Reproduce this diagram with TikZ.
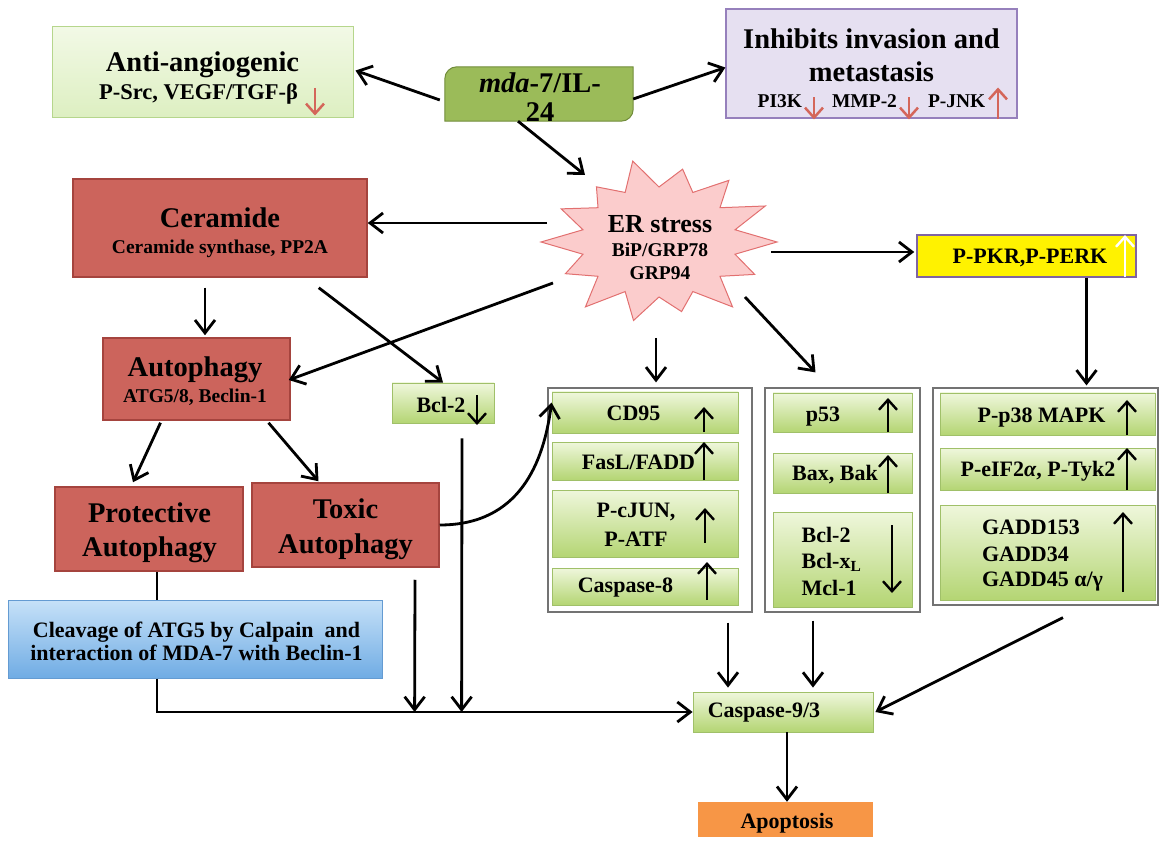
\documentclass[tikz,border=0pt]{standalone}
\usepackage{fontspec}
\setmainfont{Liberation Serif}
\usetikzlibrary{arrows.meta,calc}

\definecolor{leafTop}{RGB}{239,247,220}
\definecolor{leafBot}{RGB}{180,213,115}
\definecolor{leafEdge}{RGB}{160,192,105}
\definecolor{paleTop}{RGB}{242,249,230}
\definecolor{paleBot}{RGB}{221,239,193}
\definecolor{paleEdge}{RGB}{182,214,140}
\definecolor{olive}{RGB}{155,187,89}
\definecolor{oliveEdge}{RGB}{113,140,58}
\definecolor{lilac}{RGB}{230,224,241}
\definecolor{lilacEdge}{RGB}{150,128,188}
\definecolor{brick}{RGB}{204,100,92}
\definecolor{brickEdge}{RGB}{165,68,62}
\definecolor{blush}{RGB}{251,204,204}
\definecolor{blushEdge}{RGB}{226,112,112}
\definecolor{skyTop}{RGB}{198,225,248}
\definecolor{skyBot}{RGB}{112,172,228}
\definecolor{skyEdge}{RGB}{100,155,210}
\definecolor{tangerine}{RGB}{247,150,70}
\definecolor{pkrEdge}{RGB}{128,100,162}
\definecolor{rust}{RGB}{212,102,90}

\newcommand{\hdfont}{\fontsize{28.5}{33}\selectfont}
\newcommand{\subfont}{\fontsize{19.5}{24}\selectfont}
\newcommand{\boxfont}{\fontsize{22}{27}\selectfont}

\begin{document}
\begin{tikzpicture}[x=1pt, y=-1pt,
  every node/.style={inner sep=0pt},
  arr/.style={line width=2.8pt, -{Straight Barb[length=13pt,width=20pt]}},
  link/.style={line width=2.8pt},
  updn/.style={line width=2.4pt, -{Straight Barb[length=10pt,width=18pt]}},
  redarr/.style={draw=rust, line width=2.5pt, -{Straight Barb[length=10pt,width=18pt]}},
  leafbox/.style={draw=leafEdge, line width=0.8pt, top color=leafTop, bottom color=leafBot},
  palebox/.style={draw=paleEdge, line width=1pt, top color=paleTop, bottom color=paleBot},
  brickbox/.style={draw=brickEdge, line width=1.5pt, fill=brick},
  grpbox/.style={draw=black!55, line width=1.2pt, fill=white},
  headtext/.style={font=\hdfont\bfseries, align=center},
  boxtext/.style={font=\boxfont\bfseries, align=#1},
  boxtext/.default=center]
  \useasboundingbox (0,0) rectangle (1160,842);

  % top row
  \node[palebox, minimum width=301pt, minimum height=91pt] (anti) at (202.5,72.5) {};
  \node[headtext] (antiT) at ($(anti)+(0,6)$) {Anti-angiogenic\\[-5pt]{\fontsize{22.5}{24}\selectfont P-Src, VEGF/TGF-β\hspace*{8pt}}};
  \draw[redarr] ($(anti)+(112.5,15.5)$) -- ($(anti)+(112.5,43)$);

  \node[minimum width=188pt, minimum height=54pt] (mda) at (539,94) {};
  \filldraw[fill=olive, draw=oliveEdge, line width=1pt] (mda.south west)
    -- ($(mda.north west)+(0,12)$) arc[start angle=180, end angle=270, radius=12]
    -- (mda.north east) -- ($(mda.south east)+(0,-12)$) arc[start angle=0, end angle=90, radius=12]
    -- cycle;
  \node[headtext] (mdaT) at ($(mda)+(1,3.5)$) {\textit{mda}-7/IL-\\[-4pt]24};

  \node[draw=lilacEdge, line width=1.2pt, fill=lilac, minimum width=291pt, minimum height=109pt] (inhib) at (871.5,63.5) {};
  \node[headtext] (inhibT) at ($(inhib)+(0,5)$) {Inhibits invasion and\\metastasis\\[-7pt]{\subfont PI3K\hspace*{30pt}MMP-2\hspace*{31pt}P-JNK}};
  \draw[redarr] ($(inhib)+(-57.5,34)$) -- ($(inhib)+(-57.5,56)$);
  \draw[redarr] ($(inhib)+(37.5,34)$) -- ($(inhib)+(37.5,56)$);
  \draw[redarr] ($(inhib)+(126.5,56)$) -- ($(inhib)+(126.5,24)$);

  % ER stress
  \coordinate (erc) at (659,242);
  \draw[fill=blush, draw=blushEdge, line width=1pt] ($(erc)+(118,0)$)
    \foreach \k/\f in {1/0.9,2/1.0,3/0.86,4/0.97,5/1.0,6/0.88,7/1.0,8/0.92,9/0.85,10/1.0,11/0.9,12/0.95,13/1.0}{
      -- ($(erc)+({78*cos((2*\k-1)*180/14)},{55*sin((2*\k-1)*180/14)})$)
      -- ($(erc)+({118*\f*cos(2*\k*180/14)},{83*\f*sin(2*\k*180/14)})$)}
    -- ($(erc)+({78*cos(27*180/14)},{55*sin(27*180/14)})$) -- cycle;
  \node[font=\fontsize{26}{24}\selectfont\bfseries, align=center] (er) at (660,248) {ER stress\\{\subfont BiP/GRP78}\\[-1pt]{\subfont GRP94}};

  % left column
  \node[brickbox, minimum width=294pt, minimum height=98pt] (ceram) at (220,228) {};
  \node[headtext] (ceramT) at ($(ceram)+(0,5)$) {Ceramide\\[-7pt]{\subfont Ceramide synthase, PP2A}};
  \node[brickbox, minimum width=187pt, minimum height=82pt] (autoph) at (196.5,379) {};
  \node[headtext] (autophT) at ($(autoph)+(-1.5,2.5)$) {Autophagy\\[-7pt]{\subfont ATG5/8, Beclin-1}};
  \node[brickbox, minimum width=188pt, minimum height=84pt] (prot) at (149,529) {};
  \node[headtext] (protT) at ($(prot)+(0.5,3.5)$) {Protective\\[1pt]Autophagy};
  \node[brickbox, minimum width=187pt, minimum height=84pt] (toxic) at (345.5,525) {};
  \node[headtext] (toxicT) at ($(toxic)+(0,4)$) {Toxic\\[2pt]Autophagy};
  \node[draw=skyEdge, line width=1pt, top color=skyTop, bottom color=skyBot, minimum width=374pt, minimum height=78pt] (cleave) at (195,639) {};
  \node[boxtext] (cleaveT) at ($(cleave)+(1.5,2)$) {Cleavage of ATG5 by Calpain\ \ and\\[-4pt]interaction of MDA-7 with Beclin-1};

  \node[leafbox, minimum width=102pt, minimum height=40pt] (bcl2) at (443,403) {};
  \node[boxtext] (bcl2T) at ($(bcl2)+(-2,1.5)$) {Bcl-2};
  \draw[updn] ($(bcl2)+(34,-8)$) -- ($(bcl2)+(34,22)$);

  % right side
  \node[draw=pkrEdge, line width=1.5pt, fill=yellow, minimum width=219pt, minimum height=42pt] (pkr) at (1026.5,256) {};
  \node[boxtext] (pkrT) at ($(pkr)+(3.5,2.5)$) {P-PKR,P-PERK};
  \draw[updn, white] ($(pkr)+(98.5,21)$) -- ($(pkr)+(98.5,-21)$);

  \node[grpbox, minimum width=204pt, minimum height=224pt] (grpA) at (650,500) {};
  \node[grpbox, minimum width=155pt, minimum height=224pt] (grpB) at (842.5,500) {};
  \node[grpbox, minimum width=225pt, minimum height=217pt] (grpC) at (1045.5,496.5) {};

  \foreach \nm/\cx/\cy/\w/\h/\dx/\dy/\ax/\ya/\yb/\al/\lbl in {
    cd95/645/412.5/186/41/-11.5/1/59/19.5/-5.5/center/{CD95},
    fasl/645/461/186/38/-6.5/1.5/59/19/-19/center/{FasL/FADD},
    cjun/645/523.5/186/67/-9/1.5/60/19.5/-15.5/center/{P-cJUN,\\[2pt]P-ATF},
    casp8/645/586.5/186/37/-19.5/1.5/62/13.5/-24.5/center/{Caspase-8},
    p53/842.5/412.5/139/39/-19.5/4.5/45.5/19.5/-14.5/center/{p53},
    bax/842.5/473/139/40/-7.5/1.5/45.5/20/-18/center/{Bax, Bak},
    bclfam/842.5/559.5/139/95/-11/1.5/49.5/-34.5/33.5/left/{Bcl-2\\[-1pt]Bcl-x\textsubscript{L}\\Mcl-1},
    p38/1047.5/414/215/42/-6/4/79.5/21/-14/center/{P-p38 MAPK},
    eif/1047.5/469/215/42/-9.5/2/79.5/21/-21/center/{P-eIF2\textit{α}, P-Tyk2},
    gadd/1047.5/552.5/215/95/-5/3.5/75.5/39.5/-40.5/left/{GADD153\\GADD34\\[-2pt]GADD45 α/γ}}{
    \node[leafbox, minimum width=\w pt, minimum height=\h pt] (\nm) at (\cx,\cy) {};
    \node[boxtext=\al] (\nm T) at ($(\nm)+(\dx,\dy)$) {\lbl};
    \draw[updn] ($(\nm)+(\ax,\ya)$) -- ($(\nm)+(\ax,\yb)$);
  }

  % bottom
  \node[leafbox, minimum width=180pt, minimum height=40pt] (casp) at (783,712) {};
  \node[boxtext] (caspT) at ($(casp)+(-19,1)$) {Caspase-9/3};
  \node[fill=tangerine, minimum width=175pt, minimum height=35pt] (apop) at (785.5,819.5) {};
  \node[boxtext] (apopT) at ($(apop)+(1.5,3.5)$) {Apoptosis};

  % connectors
  \draw[arr] ($(mda.west)+(-5,6)$) -- ($(anti.east)+(2,-2)$);
  \draw[arr] ($(mda.east)+(0,5)$) -- ($(inhib.west)+(0,4)$);
  \draw[arr] ($(mda.south)+(-21,0)$) -- ($(erc)+(-74,-67)$);
  \draw[arr] ($(erc)+(-112,-19)$) -- ($(ceram.east)+(0,-5)$);
  \draw[arr] ($(erc)+(112,10)$) -- ($(pkr.west)+(-2,-4)$);
  \draw[arr] ($(pkr.south)+(60,0)$) -- ($(grpC.north)+(41,-2)$);
  \draw[arr] ($(ceram.south)+(-15,10)$) -- ($(autoph.north)+(8.5,-2)$);
  \draw[arr] ($(ceram.south east)+(-49,10)$) -- (bcl2.north);
  \draw[arr] ($(erc)+(-106,41)$) -- ($(autoph.east)+(-2,1)$);
  \draw[arr] ($(erc)+(-3,96)$) -- ($(grpA.north)+(6,-5)$);
  \draw[arr] ($(erc)+(86,55)$) -- ($(grpB.north)+(-27,-15)$);
  \draw[arr] ($(autoph.south)+(-36,2)$) -- ($(prot.north)+(-16,-4)$);
  \draw[arr] ($(autoph.south)+(72,2)$) -- ($(toxic.north)+(-27,-1)$);
  \draw[arr] (toxic.east) .. controls ($(toxic.east)+(80,0)$) and ($(cd95.north west)+(-8,71)$) .. ($(cd95.north west)+(0,11)$);
  \draw[link] ($(prot.south)+(8,0)$) -- ($(cleave.north)+(-38,0)$);
  \draw[arr] ($(cleave.south)+(-38,0)$) |- (casp.west);
  \draw[arr] ($(toxic.south)+(69.5,12)$) -- ($(casp.west)+(-278,0)$);
  \draw[arr] ($(bcl2.south)+(19,15)$) -- ($(casp.west)+(-231,0)$);
  \draw[arr] ($(grpA.south)+(78,10)$) -- ($(casp.north)+(-55,-4)$);
  \draw[arr] ($(grpB.south)+(-29.5,8)$) -- ($(casp.north)+(30,-4)$);
  \draw[arr] ($(grpC.south)+(17.5,12)$) -- ($(casp.east)+(2,0)$);
  \draw[arr] ($(casp.south)+(4,0)$) -- ($(apop.north)+(1.5,0)$);
\end{tikzpicture}
\end{document}
